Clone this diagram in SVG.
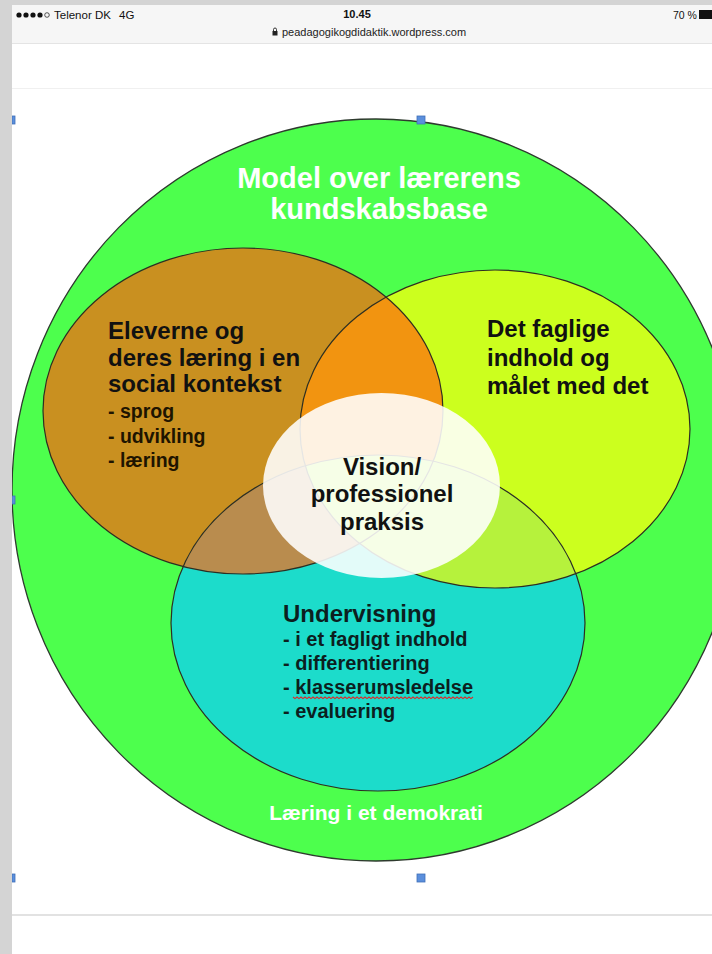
<svg xmlns="http://www.w3.org/2000/svg" width="712" height="954" viewBox="0 0 712 954">
<defs>
<style>
.b{font-family:"Liberation Sans",Arial,sans-serif;font-weight:bold}
.r{font-family:"Liberation Sans",Arial,sans-serif}
.dk{fill:#111}
.wt{fill:#ffffff}
.ol{fill:none;stroke:#2e2e22;stroke-width:1.2}
.handle{fill:#5b8fdc;stroke:#3f6fb8;stroke-width:0.8}
</style>
<clipPath id="cBrown"><ellipse cx="243" cy="411" rx="200" ry="163"/></clipPath>
<clipPath id="cYellow"><ellipse cx="495" cy="429" rx="195" ry="159"/></clipPath>
</defs>

<!-- page background -->
<rect x="0" y="0" width="712" height="954" fill="#ffffff"/>
<rect x="12" y="5" width="700" height="38" fill="#f6f6f6"/>
<line x1="12" y1="43.5" x2="712" y2="43.5" stroke="#e4e4e4" stroke-width="1"/>
<line x1="12" y1="88.5" x2="712" y2="88.5" stroke="#f0f0f0" stroke-width="1"/>
<line x1="12" y1="915" x2="712" y2="915" stroke="#e2e2e2" stroke-width="2"/>

<!-- status bar -->
<g id="statusbar">
<circle cx="19" cy="15" r="2.6" fill="#111"/>
<circle cx="26" cy="15" r="2.6" fill="#111"/>
<circle cx="33" cy="15" r="2.6" fill="#111"/>
<circle cx="40" cy="15" r="2.6" fill="#111"/>
<circle cx="47" cy="15" r="2.3" fill="none" stroke="#111" stroke-width="0.7"/>
<text class="r" x="54" y="19" font-size="11.5" fill="#111">Telenor DK</text>
<text class="r" x="119" y="19" font-size="11.5" fill="#111">4G</text>
<text class="b" x="357" y="18" font-size="11" fill="#111" text-anchor="middle">10.45</text>
<text class="r" x="673" y="19" font-size="10.5" fill="#111">70 %</text>
<rect x="699" y="10" width="13" height="9" fill="#111"/>
<rect x="272.5" y="31" width="5" height="4.5" fill="#222"/>
<path d="M273.5,31 v-1.5 a1.5,1.5 0 0 1 3,0 v1.5" fill="none" stroke="#222" stroke-width="0.9"/>
<text class="r" x="282" y="36" font-size="11" fill="#222">peadagogikogdidaktik.wordpress.com</text>
</g>

<!-- outer circle -->
<g id="outer">
<ellipse cx="376" cy="490" rx="364" ry="371" fill="#4dff4d" stroke="#2e3a2e" stroke-width="1.3"/>
<text class="b wt" x="379" y="188" font-size="29" text-anchor="middle">Model over lærerens</text>
<text class="b wt" x="379" y="219" font-size="29" text-anchor="middle">kundskabsbase</text>
<text class="b wt" x="376" y="820" font-size="21" text-anchor="middle">Læring i et demokrati</text>
</g>

<!-- base fills -->
<g id="eleverne">
<ellipse cx="243" cy="411" rx="200" ry="163" fill="#c99020"/>
</g>
<g id="faglige">
<ellipse cx="495" cy="429" rx="195" ry="159" fill="#ccff1e"/>
</g>
<g id="undervisning">
<ellipse cx="378" cy="623" rx="207" ry="168" fill="#1cdccb"/>
</g>

<!-- overlap regions -->
<g id="overlaps">
<ellipse cx="495" cy="429" rx="195" ry="159" fill="#f29410" clip-path="url(#cBrown)"/>
<ellipse cx="378" cy="623" rx="207" ry="168" fill="#b98c4e" clip-path="url(#cBrown)"/>
<ellipse cx="378" cy="623" rx="207" ry="168" fill="#b6f23c" clip-path="url(#cYellow)"/>
</g>

<!-- outlines -->
<g id="outlines">
<ellipse class="ol" cx="243" cy="411" rx="200" ry="163"/>
<ellipse class="ol" cx="495" cy="429" rx="195" ry="159"/>
<ellipse class="ol" cx="378" cy="623" rx="207" ry="168"/>
</g>

<!-- center vision -->
<g id="vision">
<ellipse cx="381.5" cy="485.5" rx="118.5" ry="92.5" fill="#ffffff" fill-opacity="0.88"/>
<text class="b dk" x="382" y="475" font-size="24" text-anchor="middle">Vision/</text>
<text class="b dk" x="382" y="502" font-size="24" text-anchor="middle">professionel</text>
<text class="b dk" x="382" y="530" font-size="24" text-anchor="middle">praksis</text>
</g>

<!-- texts of circles -->
<g id="eleverne-text">
<text class="b dk" x="108" y="339" font-size="24">Eleverne og</text>
<text class="b dk" x="108" y="366" font-size="24">deres læring  i en</text>
<text class="b dk" x="108" y="392" font-size="24">social kontekst</text>
<text class="b" x="108" y="418" font-size="19.5" fill="#1e1400">- sprog</text>
<text class="b" x="108" y="443" font-size="19.5" fill="#1e1400">- udvikling</text>
<text class="b" x="108" y="467" font-size="19.5" fill="#1e1400">- læring</text>
</g>
<g id="faglige-text">
<text class="b dk" x="487" y="337" font-size="24">Det faglige</text>
<text class="b dk" x="487" y="366" font-size="24">indhold og</text>
<text class="b dk" x="487" y="394" font-size="24">målet med det</text>
</g>
<g id="undervisning-text">
<text class="b" x="283" y="622" font-size="24" fill="#0c1f1f">Undervisning</text>
<text class="b" x="283" y="646" font-size="20" fill="#0c1f1f">- i et fagligt indhold</text>
<text class="b" x="283" y="670" font-size="20" fill="#0c1f1f">- differentiering</text>
<text class="b" x="283" y="694" font-size="20" fill="#0c1f1f">- klasserumsledelse</text>
<text class="b" x="283" y="718" font-size="20" fill="#0c1f1f">- evaluering</text>
<path d="M293,697 l2,1.6 l2,-1.6 l2,1.6 l2,-1.6 l2,1.6 l2,-1.6 l2,1.6 l2,-1.6 l2,1.6 l2,-1.6 l2,1.6 l2,-1.6 l2,1.6 l2,-1.6 l2,1.6 l2,-1.6 l2,1.6 l2,-1.6 l2,1.6 l2,-1.6 l2,1.6 l2,-1.6 l2,1.6 l2,-1.6 l2,1.6 l2,-1.6 l2,1.6 l2,-1.6 l2,1.6 l2,-1.6 l2,1.6 l2,-1.6 l2,1.6 l2,-1.6 l2,1.6 l2,-1.6 l2,1.6 l2,-1.6 l2,1.6 l2,-1.6 l2,1.6 l2,-1.6 l2,1.6 l2,-1.6 l2,1.6 l2,-1.6 l2,1.6 l2,-1.6 l2,1.6 l2,-1.6 l2,1.6 l2,-1.6 l2,1.6 l2,-1.6 l2,1.6 l2,-1.6 l2,1.6 l2,-1.6 l2,1.6 l2,-1.6 l2,1.6 l2,-1.6 l2,1.6 l2,-1.6 l2,1.6 l2,-1.6 l2,1.6 l2,-1.6 l2,1.6 l2,-1.6 l2,1.6 l2,-1.6 l2,1.6 l2,-1.6 l2,1.6 l2,-1.6 l2,1.6 l2,-1.6 l2,1.6 l2,-1.6 l2,1.6 l2,-1.6 l2,1.6 l2,-1.6 l2,1.6 l2,-1.6 l2,1.6 l2,-1.6 l2,1.6 l2,-1.6" fill="none" stroke="#e02828" stroke-width="1.1"/>
</g>

<!-- selection handles -->
<g id="handles">
<rect class="handle" x="417" y="116" width="8" height="8"/>
<rect class="handle" x="417" y="874" width="8" height="8"/>
<rect class="handle" x="12" y="116" width="3" height="8"/>
<rect class="handle" x="12" y="496" width="3" height="8"/>
<rect class="handle" x="12" y="874" width="3" height="8"/>
</g>

<!-- left gray strip and top band -->
<rect x="0" y="0" width="12" height="954" fill="#d4d4d4"/>
<rect x="0" y="0" width="712" height="5" fill="#d4d4d4"/>
</svg>
